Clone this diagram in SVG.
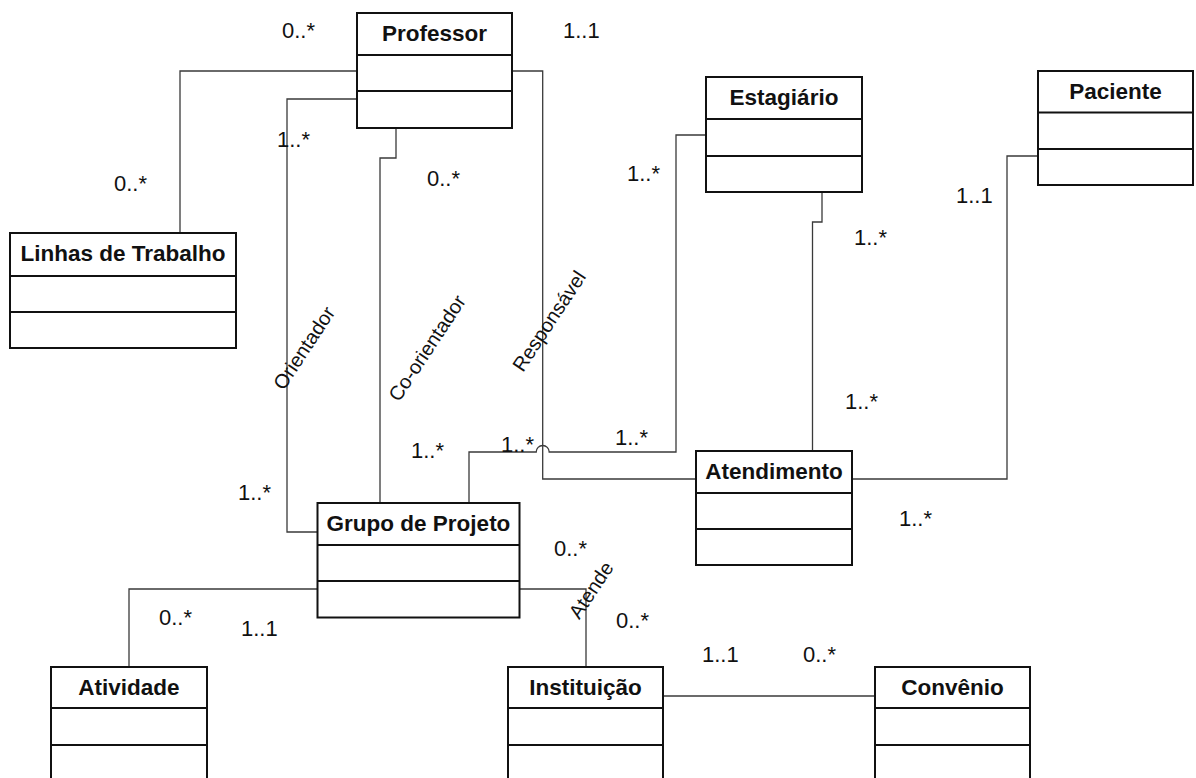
<svg xmlns="http://www.w3.org/2000/svg" width="1196" height="778" viewBox="0 0 1196 778">
  <style>
    .box { fill: #ffffff; stroke: #111111; stroke-width: 2; }
    .div { stroke: #111111; stroke-width: 2; }
    .title { font-family: "Liberation Sans", Arial, sans-serif; font-weight: bold; font-size: 22.5px; fill: #111111; text-anchor: middle; }
    .conn { fill: none; stroke: #3a3a3a; stroke-width: 1.3; }
    .mult { font-family: "Liberation Sans", Arial, sans-serif; font-size: 22px; fill: #111111; }
    .role { font-family: "Liberation Sans", Arial, sans-serif; font-size: 20px; fill: #111111; text-anchor: middle; }
  </style>
  <rect width="1196" height="778" fill="#ffffff"/>

  <!-- associations -->
  <g id="connectors">
    <path class="conn" d="M357,71 H180 V233"/>
    <path class="conn" d="M357,99 H287 V532 H318"/>
    <path class="conn" d="M396,128 V158 H380 V503"/>
    <path class="conn" d="M512,71 H542.7 V479 H696"/>
    <path class="conn" d="M469,503 V452 H536.2 A6.5,6.5 0 0 1 549.2,452 H676 V135 H706"/>
    <path class="conn" d="M822,192 V222 H812.5 V451"/>
    <path class="conn" d="M1038,156 H1007 V479 H852"/>
    <path class="conn" d="M318,589 H129 V667"/>
    <path class="conn" d="M519,589 H586 V667"/>
    <path class="conn" d="M663,696 H875"/>
  </g>

  <!-- classes -->
  <g id="professor">
    <rect class="box" x="357" y="13" width="155" height="115"/>
    <line class="div" x1="357" y1="55" x2="512" y2="55"/>
    <line class="div" x1="357" y1="91" x2="512" y2="91"/>
    <text class="title" x="434.5" y="41">Professor</text>
  </g>
  <g id="estagiario">
    <rect class="box" x="706" y="77" width="156" height="115"/>
    <line class="div" x1="706" y1="119" x2="862" y2="119"/>
    <line class="div" x1="706" y1="156" x2="862" y2="156"/>
    <text class="title" x="784" y="105">Estagiário</text>
  </g>
  <g id="paciente">
    <rect class="box" x="1038" y="71" width="155" height="114"/>
    <line class="div" x1="1038" y1="112.5" x2="1193" y2="112.5"/>
    <line class="div" x1="1038" y1="149" x2="1193" y2="149"/>
    <text class="title" x="1115.5" y="99">Paciente</text>
  </g>
  <g id="linhas-de-trabalho">
    <rect class="box" x="10" y="233" width="226" height="115"/>
    <line class="div" x1="10" y1="276" x2="236" y2="276"/>
    <line class="div" x1="10" y1="312" x2="236" y2="312"/>
    <text class="title" x="123" y="261">Linhas de Trabalho</text>
  </g>
  <g id="grupo-de-projeto">
    <rect class="box" x="317.5" y="503" width="202" height="114.5"/>
    <line class="div" x1="317.5" y1="545" x2="519.5" y2="545"/>
    <line class="div" x1="317.5" y1="581" x2="519.5" y2="581"/>
    <text class="title" x="418.5" y="531">Grupo de Projeto</text>
  </g>
  <g id="atendimento">
    <rect class="box" x="696" y="451" width="156" height="114"/>
    <line class="div" x1="696" y1="493" x2="852" y2="493"/>
    <line class="div" x1="696" y1="529" x2="852" y2="529"/>
    <text class="title" x="774" y="479">Atendimento</text>
  </g>
  <g id="atividade">
    <rect class="box" x="51" y="667" width="156" height="120"/>
    <line class="div" x1="51" y1="708" x2="207" y2="708"/>
    <line class="div" x1="51" y1="745" x2="207" y2="745"/>
    <text class="title" x="129" y="695">Atividade</text>
  </g>
  <g id="instituicao">
    <rect class="box" x="508" y="667" width="155" height="120"/>
    <line class="div" x1="508" y1="708" x2="663" y2="708"/>
    <line class="div" x1="508" y1="745" x2="663" y2="745"/>
    <text class="title" x="585.5" y="695">Instituição</text>
  </g>
  <g id="convenio">
    <rect class="box" x="875" y="667" width="155" height="120"/>
    <line class="div" x1="875" y1="708" x2="1030" y2="708"/>
    <line class="div" x1="875" y1="745" x2="1030" y2="745"/>
    <text class="title" x="952.5" y="695">Convênio</text>
  </g>

  <!-- multiplicities -->
  <g id="multiplicities">
    <text class="mult" x="282" y="38">0..*</text>
    <text class="mult" x="563" y="38">1..1</text>
    <text class="mult" x="277" y="147">1..*</text>
    <text class="mult" x="427" y="186">0..*</text>
    <text class="mult" x="114" y="191">0..*</text>
    <text class="mult" x="627" y="181">1..*</text>
    <text class="mult" x="854" y="245">1..*</text>
    <text class="mult" x="956" y="203">1..1</text>
    <text class="mult" x="845" y="409">1..*</text>
    <text class="mult" x="899" y="526">1..*</text>
    <text class="mult" x="411" y="458">1..*</text>
    <text class="mult" x="501" y="452">1..*</text>
    <text class="mult" x="615" y="445">1..*</text>
    <text class="mult" x="238" y="500">1..*</text>
    <text class="mult" x="554" y="556">0..*</text>
    <text class="mult" x="616" y="628">0..*</text>
    <text class="mult" x="159" y="625">0..*</text>
    <text class="mult" x="241" y="636">1..1</text>
    <text class="mult" x="702" y="662">1..1</text>
    <text class="mult" x="803" y="662">0..*</text>
  </g>

  <!-- role names -->
  <g id="roles">
    <text class="role" transform="translate(304,348) rotate(-56.5)" dy="0.35em">Orientador</text>
    <text class="role" transform="translate(427,348) rotate(-56.5)" dy="0.35em">Co-orientador</text>
    <text class="role" transform="translate(549,321) rotate(-56.5)" dy="0.35em">Responsável</text>
    <text class="role" transform="translate(591,590) rotate(-56.5)" dy="0.35em">Atende</text>
  </g>
</svg>
